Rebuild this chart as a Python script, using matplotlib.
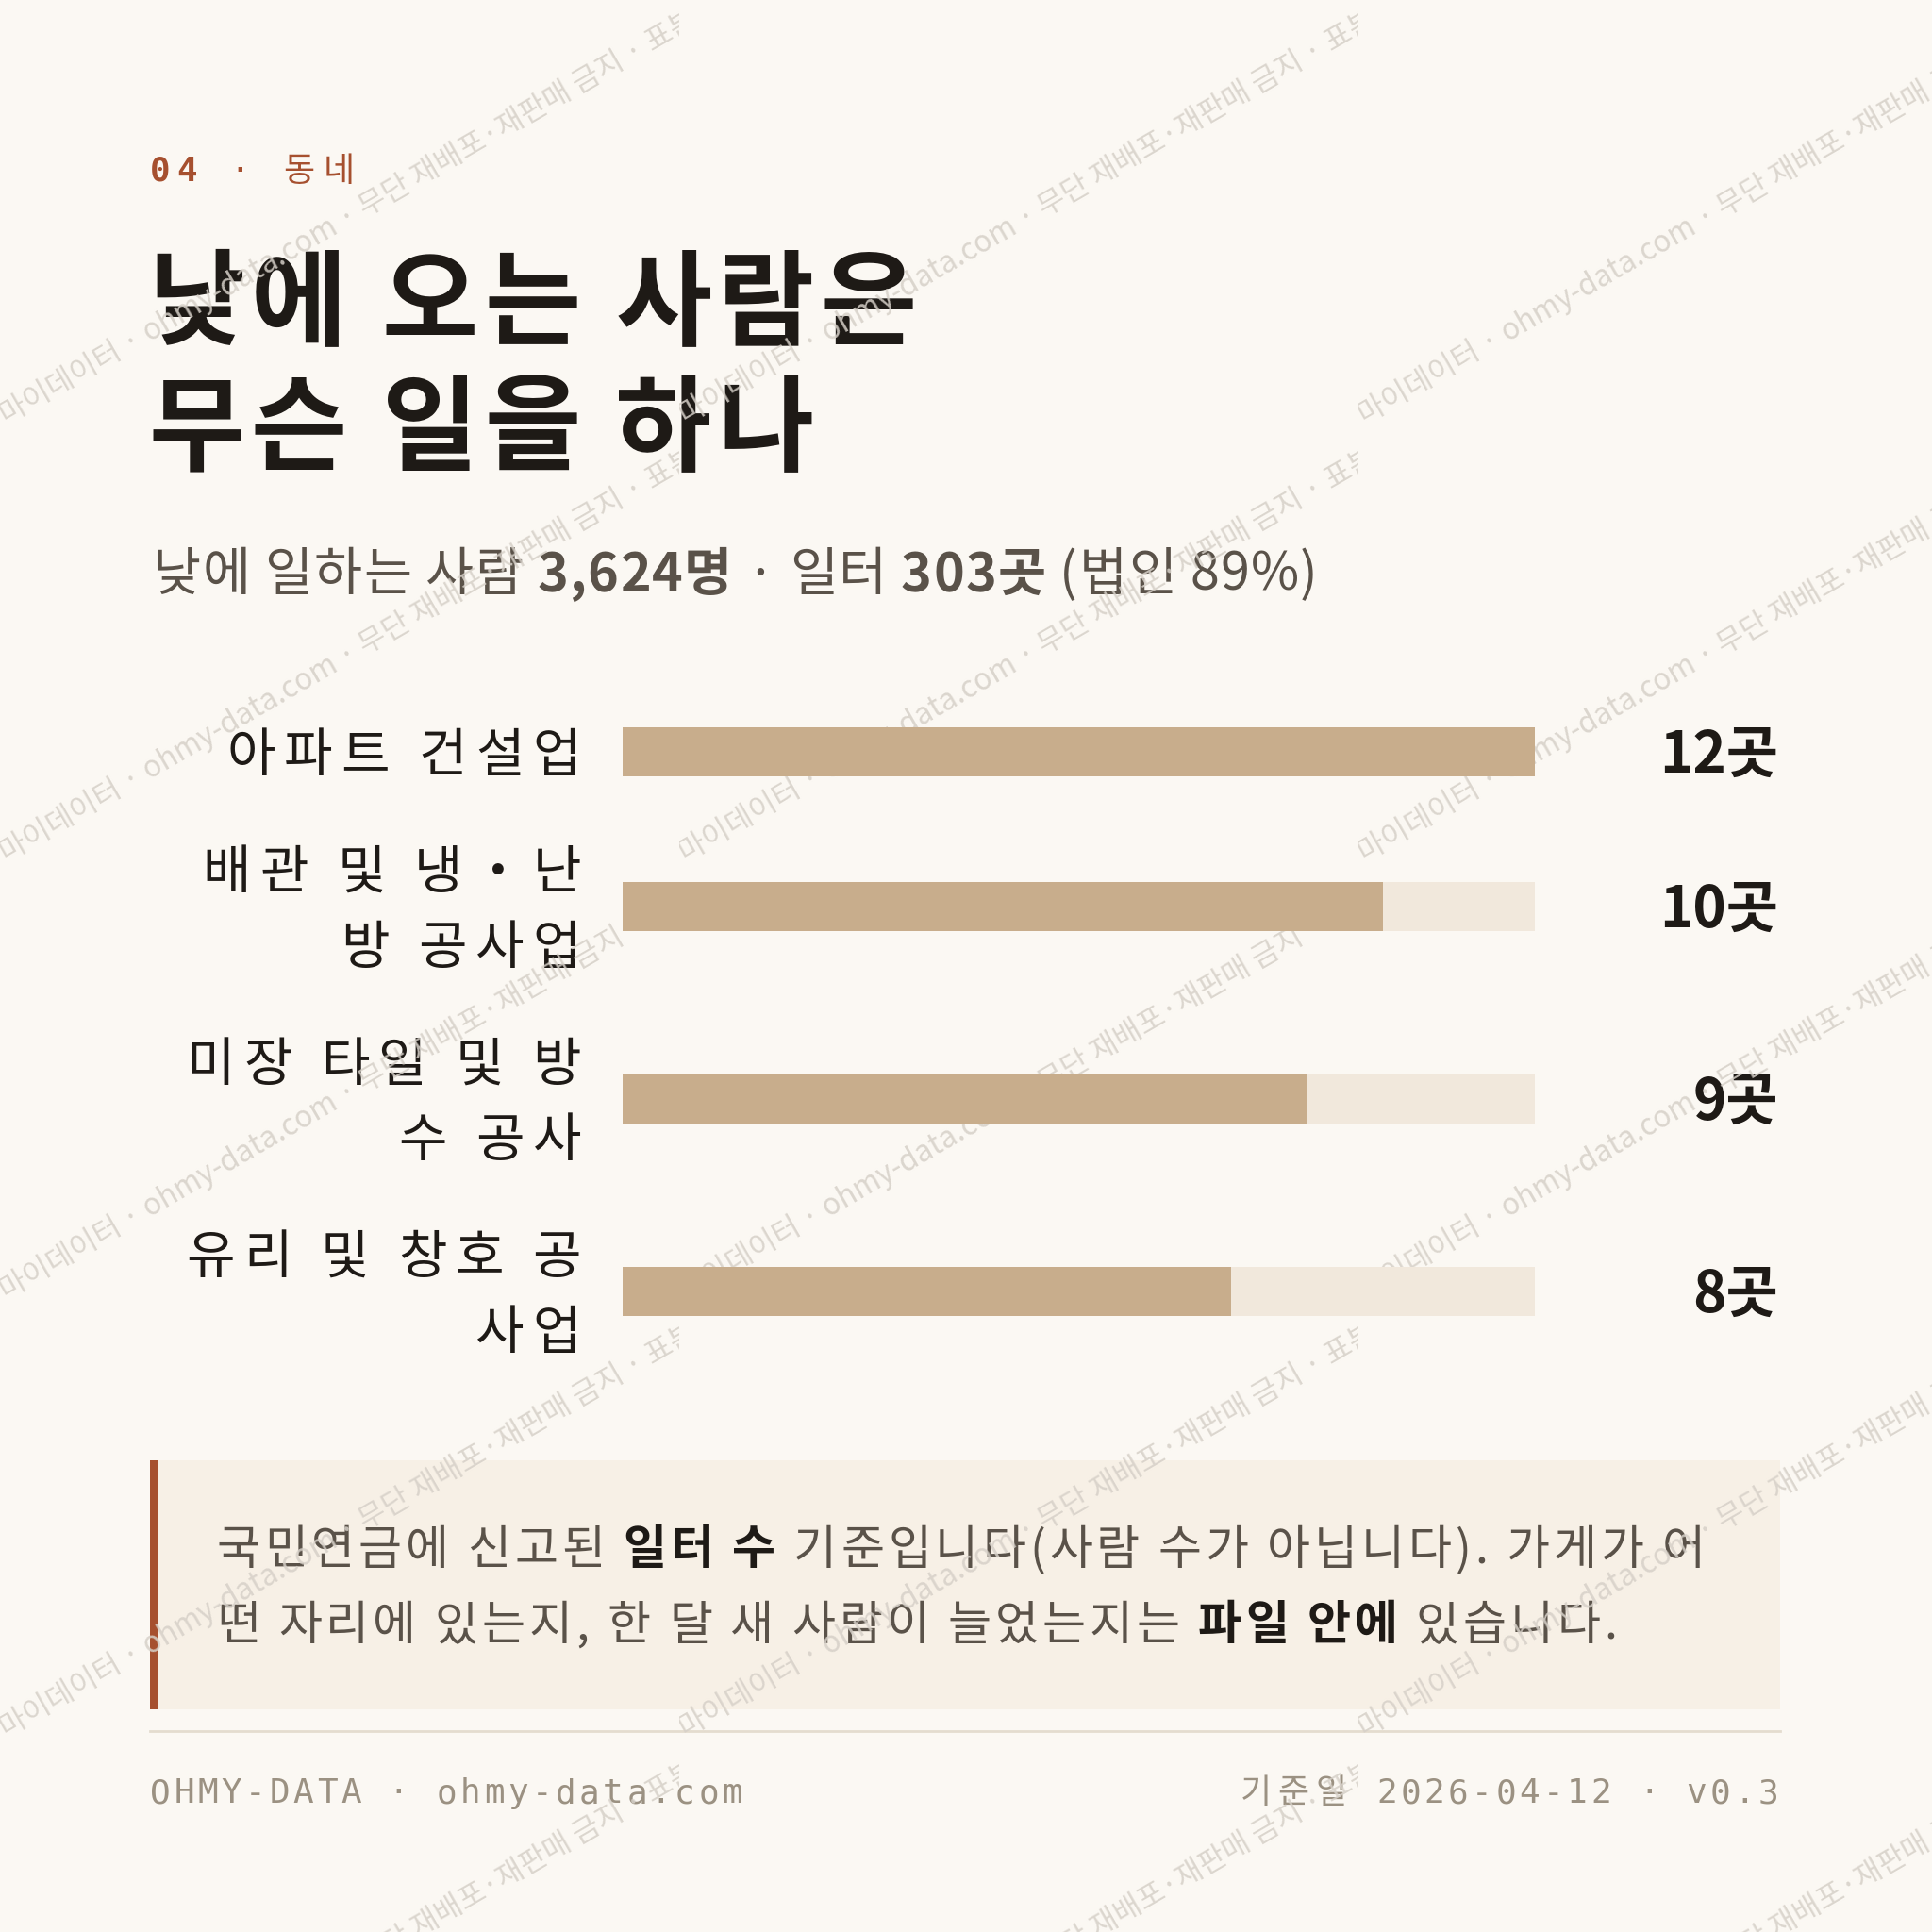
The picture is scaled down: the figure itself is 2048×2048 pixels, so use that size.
import math
import matplotlib
matplotlib.use("Agg")
import matplotlib.pyplot as plt
from matplotlib.patches import Rectangle

KR = "Noto Sans CJK KR"
MONO = ["DejaVu Sans Mono", KR]

# colours
BG = "#FBF8F3"
INK = "#1E1A16"
SUB = "#5A5249"
RUST = "#A6502F"
BAR = "#C8AD8C"
TRACK = "#F1E8DC"
NOTE_BG = "#F7F0E6"
RULE = "#E4DCCF"
FOOT = "#9B9182"
WM = "#D6D0C8"

# data
kicker = "04 · 동네"
title_lines = ["낮에 오는 사람은", "무슨 일을 하나"]
subtitle_runs = [("낮에 일하는 사람 ", "normal"), ("3,624명", "bold"),
                 (" · 일터 ", "normal"), ("303곳", "bold"),
                 (" (법인 89%)", "normal")]
categories = ["아파트 건설업", "배관 및 냉・난\n방 공사업",
              "미장 타일 및 방\n수 공사", "유리 및 창호 공\n사업"]
counts = [12, 10, 9, 8]
unit = "곳"
note_lines = [
    [("국민연금에 신고된 ", "normal"), ("일터 수", "bold"),
     (" 기준입니다(사람 수가 아닙니다). 가게가 어", "normal")],
    [("떤 자리에 있는지, 한 달 새 사람이 늘었는지는 ", "normal"),
     ("파일 안에", "bold"), (" 있습니다.", "normal")],
]
footer_left = "OHMY-DATA · ohmy-data.com"
footer_right = "기준일 2026-04-12 · v0.3"
watermark = "마이데이터 · ohmy-data.com · 무단 재배포·재판매 금지 · 표본"

PX = 0.72  # points per pixel at dpi 100

fig = plt.figure(figsize=(20.48, 20.48), dpi=100)
fig.patch.set_facecolor(BG)
ax = fig.add_axes([0, 0, 1, 1])
ax.set_xlim(0, 2048)
ax.set_ylim(2048, 0)
ax.axis("off")
R = fig.canvas.get_renderer()
_cache = {}


def run_width(s, size, weight="normal"):
    key = (s, size, weight)
    if key not in _cache:
        kw = dict(fontsize=size, family=KR, weight=weight)
        t1 = ax.text(0, 0, "|" + s + "|", **kw)
        t2 = ax.text(0, 0, "||", **kw)
        _cache[key] = (t1.get_window_extent(R).width
                       - t2.get_window_extent(R).width)
        t1.remove()
        t2.remove()
    return _cache[key]


def text_width(s, size, weight, spacing):
    return sum(run_width(c, size, weight) for c in s) + spacing * (len(s) - 1)


def draw_chars(x, y, s, size, color, weight="normal", spacing=0.0, ha="left"):
    if ha == "right":
        x -= text_width(s, size, weight, spacing)
    for c in s:
        if c != " ":
            ax.text(x, y, c, fontsize=size, family=KR, weight=weight,
                    color=color, va="baseline", ha="left", zorder=3)
        x += run_width(c, size, weight) + spacing
    return x


def draw_runs(x, y, runs, size, colors, spacing=0.0):
    for text, weight in runs:
        x = draw_chars(x, y, text, size, colors[weight], weight, spacing)


def spaced_mono(x, y, s, em, spacing, color, ha="left", bold_digits=False):
    adv = [(em if ord(c) >= 0x1100 else 0.602 * em) + spacing for c in s]
    total = sum(adv) - spacing
    if ha == "right":
        x -= total
    for c, a in zip(s, adv):
        w = "bold" if (bold_digits and c.isdigit()) else "normal"
        ax.text(x, y, c, fontsize=em * PX, family=MONO, weight=w,
                color=color, va="baseline", ha="left", zorder=3)
        x += a


# kicker
spaced_mono(159, 192, kicker, 36, 6.5, RUST, bold_digits=True)

# title
for i, line in enumerate(title_lines):
    draw_chars(157, 357 + i * 133, line, 80, INK, "bold", spacing=6)

# subtitle
draw_runs(162, 626, subtitle_runs, 40, {"normal": SUB, "bold": SUB}, spacing=1.2)

# bars: row centres from the number of label lines
line_h, gap, first = 80, 44, 797
n_lines = [len(c.split("\n")) for c in categories]
centers = [first]
for a, b in zip(n_lines[:-1], n_lines[1:]):
    centers.append(centers[-1] + gap + (a + b) / 2 * line_h)

ax_bar = fig.add_axes([660 / 2048, 1 - 1450 / 2048, 967 / 2048, 750 / 2048])
ax_bar.set_xlim(0, max(counts))
ax_bar.set_ylim(1450, 700)
ax_bar.axis("off")
ax_bar.patch.set_alpha(0)
ax_bar.barh(centers, [max(counts)] * len(counts), height=52, color=TRACK, zorder=1)
ax_bar.barh(centers, counts, height=52, color=BAR, zorder=2)

label_em = 56
for c, cy, v in zip(categories, centers, counts):
    lines = c.split("\n")
    for j, ln in enumerate(lines):
        ly = cy + (j - (len(lines) - 1) / 2) * line_h + 0.37 * label_em
        draw_chars(616, ly, ln, label_em * PX, INK, spacing=9, ha="right")
    ax.text(1885, cy + 0.37 * 60, f"{v}{unit}", fontsize=60 * PX, family=KR,
            weight="bold", color=INK, ha="right", va="baseline", zorder=3)

# note box
ax.add_patch(Rectangle((159, 1548), 1728, 264, color=NOTE_BG, lw=0, zorder=1))
ax.add_patch(Rectangle((159, 1548), 8, 264, color=RUST, lw=0, zorder=2))
for i, runs in enumerate(note_lines):
    draw_runs(230, 1658 + i * 80, runs, 36, {"normal": SUB, "bold": INK}, spacing=4)

# rule + footer
ax.plot([159, 1887], [1835, 1835], color=RULE, lw=2, zorder=2)
spaced_mono(159, 1911, footer_left, 36, 3.6, FOOT)
spaced_mono(1885, 1911, footer_right, 36, 3.6, FOOT, ha="right")

# watermark tiles, each clipped to its own cell
W, H, y0 = 720, 464, 450
wm_size = 22.5
prefix = "표본 · "
pw = run_width(prefix, wm_size)
ang = math.radians(30)
for row in range(-1, 5):
    for col in range(3):
        tx, ty = col * W, y0 + row * H
        clip = Rectangle((tx, ty - H + 20), W, H, transform=ax.transData)
        t = ax.text(tx + 7 - pw * math.cos(ang), ty + pw * math.sin(ang),
                    prefix + watermark, fontsize=wm_size, family=KR, color=WM,
                    rotation=30, rotation_mode="anchor", ha="left",
                    va="baseline", alpha=0.85, zorder=5, clip_on=True)
        t.set_clip_path(clip)

fig.savefig("out.png", dpi=100, facecolor=BG)
